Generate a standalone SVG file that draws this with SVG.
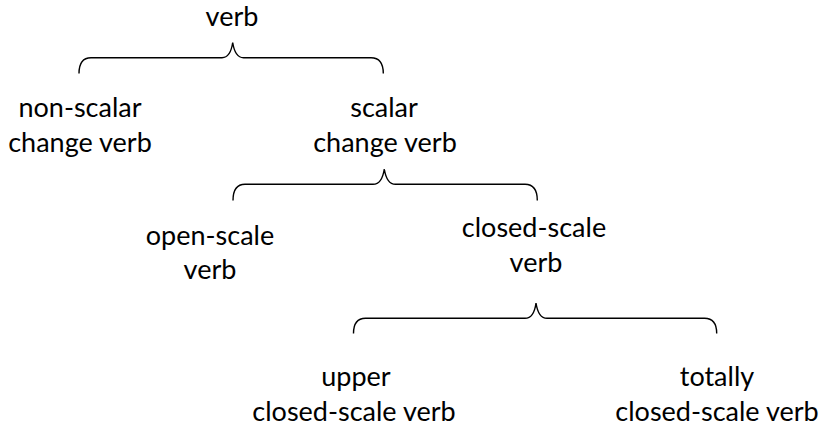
<svg xmlns="http://www.w3.org/2000/svg" width="821" height="430" viewBox="0 0 821 430">
  <style>
    .lbl { font-family: Lato, "Liberation Sans", sans-serif; font-size: 27px; fill: #000; text-anchor: middle; }
    .brace { fill: none; stroke: #000; stroke-width: 1.4; stroke-linecap: butt; }
  </style>
  <rect width="821" height="430" fill="#fff"/>

  <!-- braces linking each category to its subtypes -->
  <g id="connectors">
    <path class="brace" d="M79,73.5 Q79,57.7 91,57.7 H222 Q230.5,57.7 232.7,42.5 Q235,57.7 243.5,57.7 H371 Q383.3,57.7 383.3,73.5"/>
    <path class="brace" d="M233,200.5 Q233,184.3 245,184.3 H373 Q382,184.3 384.3,169 Q386.7,184.3 395.5,184.3 H525 Q537.3,184.3 537.3,200.5"/>
    <path class="brace" d="M353.5,333.5 Q353.5,318.3 365.5,318.3 H525 Q534,318.3 536,303 Q538.3,318.3 547,318.3 H704.5 Q716.7,318.3 716.7,333.5"/>
  </g>

  <g id="verb">
    <text class="lbl" x="232" y="26">verb</text>
  </g>
  <g id="non-scalar">
    <text class="lbl" x="80" y="117">non-scalar</text>
    <text class="lbl" x="80" y="152">change verb</text>
  </g>
  <g id="scalar">
    <text class="lbl" x="384" y="117">scalar</text>
    <text class="lbl" x="385" y="152">change verb</text>
  </g>
  <g id="open-scale">
    <text class="lbl" x="210" y="245">open-scale</text>
    <text class="lbl" x="210" y="279">verb</text>
  </g>
  <g id="closed-scale">
    <text class="lbl" x="534" y="237">closed-scale</text>
    <text class="lbl" x="536" y="272">verb</text>
  </g>
  <g id="upper-closed">
    <text class="lbl" x="356" y="386">upper</text>
    <text class="lbl" x="354" y="421">closed-scale verb</text>
  </g>
  <g id="totally-closed">
    <text class="lbl" x="717" y="386">totally</text>
    <text class="lbl" x="717" y="421">closed-scale verb</text>
  </g>
</svg>
